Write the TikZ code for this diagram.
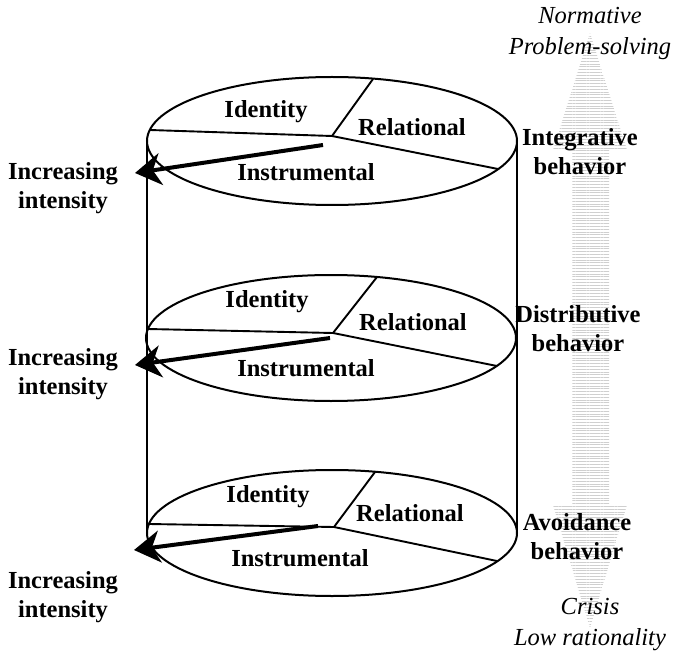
\documentclass[tikz,border=0pt]{standalone}
\usepackage{fontspec}
\setmainfont{Liberation Serif}
\usetikzlibrary{arrows.meta,patterns.meta}

\tikzset{
  rim/.style={line width=2pt},
  spoke/.style={line width=1.9pt},
  intens/.style={line width=4pt,-{Stealth[length=26pt,width=32pt,inset=8pt]}},
  seg/.style={font=\fontsize{24.5}{28}\selectfont\bfseries},
  sidelabel/.style={font=\fontsize{24.5}{29}\selectfont\bfseries,align=center},
  pole/.style={font=\fontsize{24.5}{31}\selectfont\itshape,align=center},
  scalebar/.style={pattern={Lines[angle=0,distance=2.8pt,line width=0.7pt]},pattern color=gray!38},
}

\begin{document}
\begin{tikzpicture}[x=1pt,y=-1pt]
\useasboundingbox (0,0) rectangle (674,652);

% rationality scale behind the labels
\fill[scalebar] (590,33) -- (627,150) -- (609,150) -- (609,505) -- (627,505) -- (590,628)
  -- (553,505) -- (572,505) -- (572,150) -- (553,150) -- cycle;

% cylinder
\draw[rim] (147,141) -- (147,533);
\draw[rim] (517,141) -- (517,533);
\draw[rim] (332,141) ellipse [x radius=185pt, y radius=64pt];
\draw[rim] (331,338) ellipse [x radius=185pt, y radius=63pt];
\draw[rim] (332,533) ellipse [x radius=185pt, y radius=63pt];

% top tier
\coordinate (pie1) at (332,136);
\draw[spoke] (pie1) -- (150,130);
\draw[spoke] (pie1) -- (373,79);
\draw[spoke] (pie1) -- (498,169);
\node[seg] (id1) at (266,112) {Identity};
\node[seg] (rel1) at (412,127) {Relational};
\node[seg] (ins1) at (306,172) {Instrumental};
\node[sidelabel] (inc1) at (63,188) {Increasing\\intensity};
\coordinate (tail1) at (323,145);
\coordinate (tip1) at (135,173);
\draw[intens] (tail1) -- (tip1);

% middle tier
\coordinate (pie2) at (333,333);
\draw[spoke] (pie2) -- (148,329);
\draw[spoke] (pie2) -- (377,277);
\draw[spoke] (pie2) -- (497,366);
\node[seg] (id2) at (267,302) {Identity};
\node[seg] (rel2) at (413,322) {Relational};
\node[seg] (ins2) at (306,368) {Instrumental};
\node[sidelabel] (inc2) at (63,374) {Increasing\\intensity};
\coordinate (tail2) at (330,338);
\coordinate (tip2) at (135,365);
\draw[intens] (tail2) -- (tip2);

% bottom tier
\coordinate (pie3) at (334,527);
\draw[spoke] (pie3) -- (149,524);
\draw[spoke] (pie3) -- (375,472);
\draw[spoke] (pie3) -- (497,561);
\node[seg] (id3) at (268,497) {Identity};
\node[seg] (rel3) at (410,513) {Relational};
\node[seg] (ins3) at (300,558) {Instrumental};
\node[sidelabel] (inc3) at (63,597) {Increasing\\intensity};
\coordinate (tail3) at (318,526);
\coordinate (tip3) at (134,550);
\draw[intens] (tail3) -- (tip3);

% behaviour labels and poles
\node[sidelabel] (integ) at (580,152) {Integrative\\behavior};
\node[sidelabel] (distr) at (578,329) {Distributive\\behavior};
\node[sidelabel] (avoid) at (577,537) {Avoidance\\behavior};
\node[pole] (norm) at (590,34) {Normative\\Problem-solving};
\node[pole] (crisis) at (590,625) {Crisis\\Low rationality};
\end{tikzpicture}
\end{document}
